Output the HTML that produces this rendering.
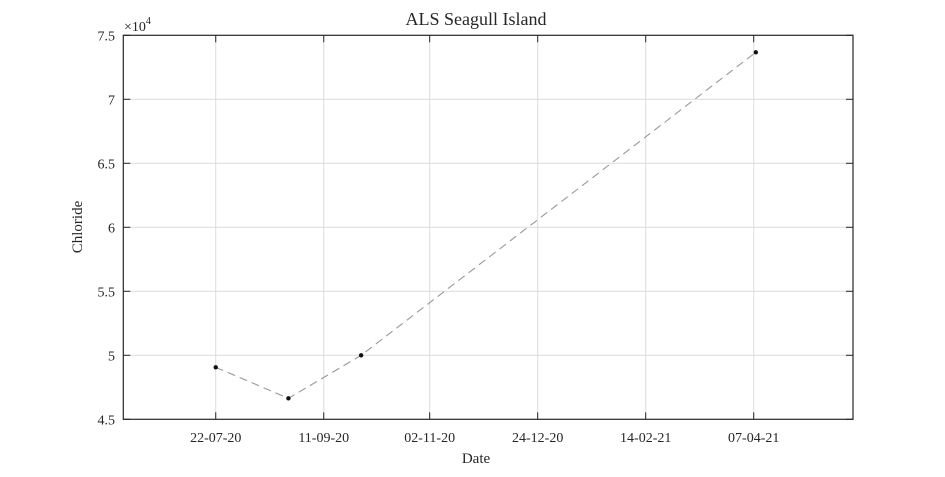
<!DOCTYPE html>
<html><head><meta charset="utf-8"><style>
body{margin:0;background:#fff}
svg text{font-family:"Liberation Serif",serif;fill:#262626}
</style></head><body>
<svg id="chart" width="945" height="472" xmlns="http://www.w3.org/2000/svg">
<g id="grid"></g>
<g id="axes"></g>
<g id="series"></g>
<text x="476" y="25" text-anchor="middle" font-size="18">ALS Seagull Island</text>
<text x="476" y="463" text-anchor="middle" font-size="15">Date</text>
<text transform="translate(82,227) rotate(-90)" text-anchor="middle" font-size="15">Chloride</text>
<text x="124" y="31" font-size="14">×10<tspan dy="-7" font-size="10">4</tspan></text>
</svg>
<script>
const dates = ["2020-07-22","2020-08-26","2020-09-30","2021-04-08"];
const values = [49060, 46640, 50000, 73670];
const xTickDates = ["2020-07-22","2020-09-12","2020-11-02","2020-12-24","2021-02-14","2021-04-07"];
const xTickLabels = ["22-07-20","11-09-20","02-11-20","24-12-20","14-02-21","07-04-21"];
const yTicks = [45000,50000,55000,60000,65000,70000,75000];
const yTickLabels = ["4.5","5","5.5","6","6.5","7","7.5"];

const L=123.3,R=853,T=35.3,B=419.3;
const ref=Date.UTC(2020,6,22);
function days(s){const p=s.split('-');return (Date.UTC(+p[0],+p[1]-1,+p[2])-ref)/86400000;}
const xMin=-44.5,xMax=306.8,yMin=45000,yMax=75000;
const X=d=>L+(days(d)-xMin)/(xMax-xMin)*(R-L);
const Y=v=>B-(v-yMin)/(yMax-yMin)*(B-T);
const NS="http://www.w3.org/2000/svg";
function mk(tag,attrs,parent){const e=document.createElementNS(NS,tag);for(const k in attrs)e.setAttribute(k,attrs[k]);parent.appendChild(e);return e;}
const grid=document.getElementById('grid'),axes=document.getElementById('axes'),ser=document.getElementById('series');
xTickDates.forEach((d,i)=>{const x=X(d);
 const g=mk('line',{x1:x,x2:x,y1:T,y2:B,stroke:'#dcdcdc','stroke-width':1},grid);
 
 
 mk('line',{x1:x,x2:x,y1:B,y2:B-7,stroke:'#262626'},axes);
 mk('line',{x1:x,x2:x,y1:T,y2:T+7,stroke:'#262626'},axes);
 const t=mk('text',{x:x,y:442,'text-anchor':'middle','font-size':14},axes);t.textContent=xTickLabels[i];
 
 
});
yTicks.forEach((v,i)=>{const y=Y(v);
 if(i>0&&i<yTicks.length-1){const g=mk('line',{x1:L,x2:R,y1:y,y2:y,stroke:'#dcdcdc'},grid);
 
 }
 mk('line',{x1:L,x2:L+7,y1:y,y2:y,stroke:'#262626'},axes);
 mk('line',{x1:R,x2:R-7,y1:y,y2:y,stroke:'#262626'},axes);
 const t=mk('text',{x:115,y:y+5,'text-anchor':'end','font-size':14},axes);t.textContent=yTickLabels[i];
 
 
});
const box=mk('rect',{x:L,y:T,width:R-L,height:B-T,fill:'none',stroke:'#262626','stroke-width':1.2},axes);


const pts=dates.map((d,i)=>X(d)+','+Y(values[i])).join(' ');
const pl=mk('polyline',{points:pts,fill:'none',stroke:'#999','stroke-width':1.1,'stroke-dasharray':'8,5'},ser);


dates.forEach((d,i)=>{const c=mk('circle',{cx:X(d),cy:Y(values[i]),r:2.2,fill:'#111'},ser);
 
 
});
</script>
</body></html>
